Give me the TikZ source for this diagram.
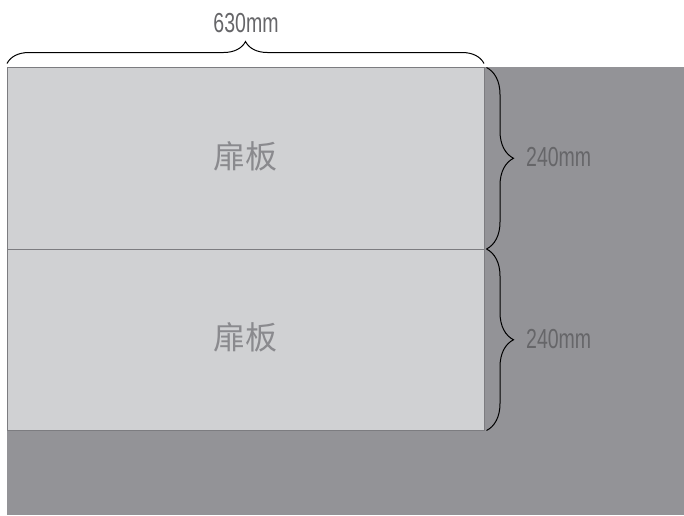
\documentclass[tikz,border=0pt]{standalone}
\usepackage{fontspec}
\setmainfont{Liberation Sans}
\newfontfamily\cjk{Noto Sans CJK SC}
\usetikzlibrary{decorations.pathreplacing}
\definecolor{bgdark}{HTML}{939397}
\definecolor{panelfill}{HTML}{D0D1D3}
\definecolor{panelline}{HTML}{7C7C80}
\definecolor{cjkgray}{HTML}{8A8A8E}
\definecolor{dimgray}{HTML}{666669}
\begin{document}
\begin{tikzpicture}[x=1pt,y=-1pt,
  panel/.style={draw=panelline,fill=panelfill,line width=1pt,minimum width=477pt,minimum height=181.5pt,inner sep=0pt,outer sep=0pt},
  paneltext/.style={text=cjkgray,font=\cjk\fontsize{32}{32}\selectfont},
  dimtext/.style={text=dimgray,font=\fontsize{27.5}{27.5}\selectfont,xscale=0.71,inner sep=0pt},
  bracetop/.style={draw=black,line width=1pt,decorate,decoration={brace,amplitude=22pt,raise=4pt}},
  braceright/.style={draw=black,line width=1pt,decorate,decoration={brace,amplitude=27pt,raise=2.5pt}}]
\useasboundingbox (0,0) rectangle (684,515);
\fill[white] (0,0) rectangle (684,515);
\fill[bgdark] (6.5,67) rectangle (684,515);
\node[panel] (p1) at (245.5,158.25) {};
\node[panel] (p2) at (245.5,339.75) {};
\node[paneltext] (t1) at ([yshift=2pt]p1.center) {扉板};
\node[paneltext] (t2) at ([yshift=2pt]p2.center) {扉板};
\draw[bracetop] (p1.north west) -- (p1.north east);
\draw[braceright] (p1.north east) -- (p1.south east);
\draw[braceright] (p2.north east) -- (p2.south east);
\node[dimtext] (w) at (246,23) {630mm};
\node[dimtext,anchor=west] (h1) at (526,157.5) {240mm};
\node[dimtext,anchor=west] (h2) at (526,339.5) {240mm};
\end{tikzpicture}
\end{document}
